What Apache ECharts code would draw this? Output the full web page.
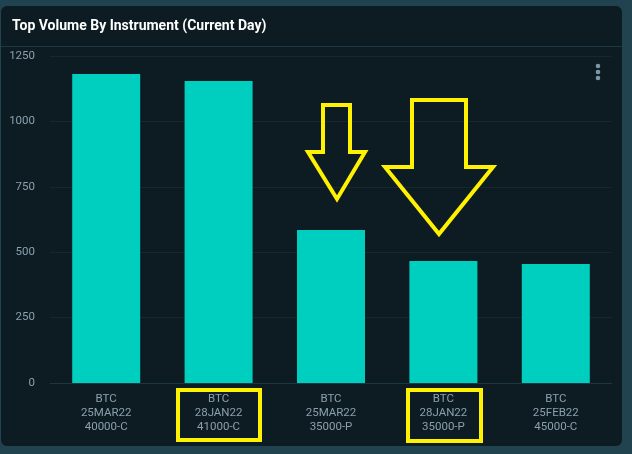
<!DOCTYPE html>
<html>
<head>
<meta charset="utf-8">
<script src="https://cdn.jsdelivr.net/npm/echarts@6/dist/echarts.min.js"></script>
<style>
    html, body {margin: 0; padding: 0; background: #21424f; width: 632px; height: 454px; overflow: hidden;}
    #panel {position: absolute; left: 1px; top: 6px; width: 621px; height: 440px; background: #0d1b22; border-radius: 6px;}
    #sep {position: absolute; left: 1px; top: 46px; width: 621px; height: 1px; background: #1d3844;}
    #main {position: absolute; left: 0; top: 0; width: 632px; height: 454px;}
</style>
</head>
<body>
<div id="panel"></div>
<div id="sep"></div>
<div id="main"></div>
<script>
var categories = ['BTC\n25MAR22\n40000-C', 'BTC\n28JAN22\n41000-C', 'BTC\n25MAR22\n35000-P', 'BTC\n28JAN22\n35000-P', 'BTC\n25FEB22\n45000-C'];
var volumes = [1181, 1154, 585, 466, 455];
var yTicks = [0, 250, 500, 750, 1000, 1250];

var yellow = '#fff200';
var arrowStyle = {fill: null, stroke: yellow, lineWidth: 4, lineJoin: 'miter'};

var myChart = echarts.init(document.getElementById('main'));
var option = {
    backgroundColor: 'transparent',
    animation: false,
    title: {
        text: 'Top Volume By Instrument (Current Day)',
        left: 7,
        top: 14,
        textStyle: {
            color: '#ffffff',
            fontSize: 14,
            fontWeight: 'bold',
            fontFamily: 'Roboto'
        }
    },
    grid: {
        left: 50,
        right: 20,
        top: 56,
        bottom: 71
    },
    xAxis: {
        type: 'category',
        data: categories,
        axisLine: {
            lineStyle: {color: '#1d3640'}
        },
        axisTick: {show: false},
        axisLabel: {
            color: '#8ba0ae',
            fontSize: 11.5,
            fontFamily: 'Roboto',
            lineHeight: 14,
            margin: 9
        }
    },
    yAxis: {
        type: 'value',
        min: yTicks[0],
        max: yTicks[yTicks.length - 1],
        interval: 250,
        axisLine: {show: false},
        axisTick: {show: false},
        axisLabel: {
            color: '#8ba0ae',
            fontSize: 11.5,
            fontFamily: 'Roboto',
            margin: 15,
            formatter: function (v) { return String(v); }
        },
        splitLine: {
            lineStyle: {color: '#18272e', width: 1}
        }
    },
    series: [{
        type: 'bar',
        data: volumes,
        barWidth: 68,
        itemStyle: {color: '#00cfbf'}
    }],
    // yellow markers drawn over the chart + menu dots
    graphic: [
        {type: 'circle', shape: {cx: 598, cy: 66, r: 2.3}, style: {fill: '#7d96a5'}},
        {type: 'circle', shape: {cx: 598, cy: 72, r: 2.3}, style: {fill: '#7d96a5'}},
        {type: 'circle', shape: {cx: 598, cy: 78, r: 2.3}, style: {fill: '#7d96a5'}},
        {
            type: 'polygon', z: 100,
            shape: {points: [[323, 105], [350, 105], [350, 152], [365, 152], [337, 199], [308, 152], [323, 152]]},
            style: arrowStyle
        },
        {
            type: 'polygon', z: 100,
            shape: {points: [[412, 100], [466, 100], [466, 167], [493, 167], [439, 234], [385, 167], [412, 167]]},
            style: arrowStyle
        },
        {type: 'rect', z: 100, shape: {x: 178, y: 390, width: 82, height: 50}, style: arrowStyle},
        {type: 'rect', z: 100, shape: {x: 408, y: 390, width: 73, height: 51}, style: arrowStyle}
    ]
};
myChart.setOption(option);
</script>
</body>
</html>
